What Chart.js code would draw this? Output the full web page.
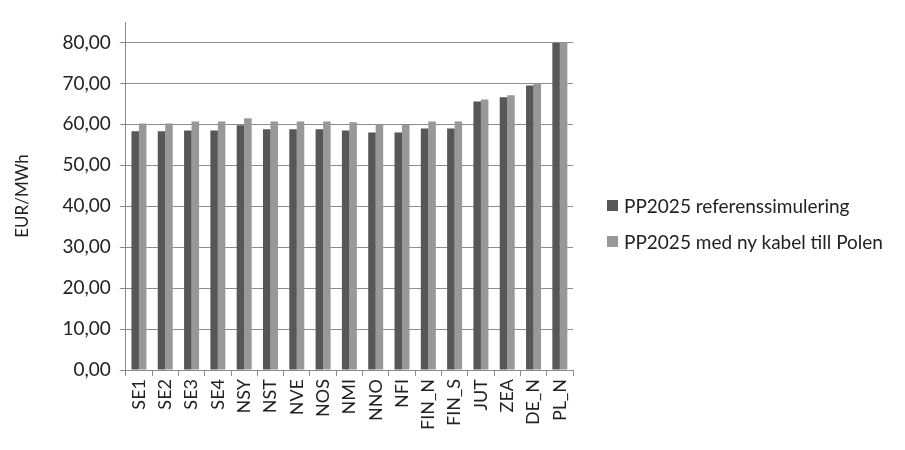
<!DOCTYPE html>
<html>
<head>
<meta charset="utf-8">
<script src="https://cdn.jsdelivr.net/npm/chart.js@4"></script>
<style>
  html, body { margin: 0; padding: 0; background: #fff; }
  #wrap { position: relative; width: 905px; height: 450px; }
  #legend { position: absolute; left: 607px; top: 192px; font-family: Lato, sans-serif; font-size: 19px; color: #222; }
  .legend-item { display: flex; align-items: center; height: 26px; margin-bottom: 10px; }
  .legend-box { width: 11px; height: 11px; margin-right: 6px; }
</style>
</head>
<body>
<div id="wrap">
  <canvas id="chart" width="905" height="450"></canvas>
  <div id="legend"></div>
</div>
<script>
// ============ DATA ============

const categories = ['SE1', 'SE2', 'SE3', 'SE4', 'NSY', 'NST', 'NVE', 'NOS', 'NMI', 'NNO', 'NFI', 'FIN_N', 'FIN_S', 'JUT', 'ZEA', 'DE_N', 'PL_N'];
const referens = [58.3, 58.3, 58.5, 58.5, 59.8, 58.8, 58.8, 58.8, 58.5, 58.0, 58.0, 59.0, 59.0, 65.6, 66.6, 69.5, 79.9];
const nyKabel = [60.2, 60.2, 60.7, 60.7, 61.5, 60.7, 60.7, 60.7, 60.5, 59.9, 59.9, 60.7, 60.7, 66.1, 67.1, 70.0, 80.0];
const yTicks = [0, 10, 20, 30, 40, 50, 60, 70, 80];

const seriesNames = ['PP2025 referenssimulering', 'PP2025 med ny kabel till Polen'];
const seriesColors = ['#575757', '#989898'];

// ============ CHART ============

const font = 'Lato';
const gridColor = '#8c8c8c';

function formatValue(v) {
  return v.toFixed(2).replace('.', ',');
}

const chart = new Chart(document.getElementById('chart'), {
  type: 'bar',
  data: {
    labels: categories,
    datasets: [{
      label: seriesNames[0],
      data: referens,
      backgroundColor: seriesColors[0],
      categoryPercentage: 0.57,
      barPercentage: 1
    }, {
      label: seriesNames[1],
      data: nyKabel,
      backgroundColor: seriesColors[1],
      categoryPercentage: 0.57,
      barPercentage: 1
    }]
  },
  options: {
    responsive: false,
    animation: false,
    layout: { padding: { top: 22, left: 8, right: 332, bottom: 17 } },
    plugins: {
      legend: { display: false },
      tooltip: { enabled: false }
    },
    scales: {
      x: {
        grid: {
          offset: true,
          drawOnChartArea: false,
          drawTicks: true,
          tickLength: 6,
          color: gridColor
        },
        border: { color: gridColor },
        ticks: {
          minRotation: 90,
          maxRotation: 90,
          autoSkip: false,
          color: '#222',
          font: { family: font, size: 18 }
        }
      },
      y: {
        min: 0,
        max: 85,
        afterBuildTicks: axis => {
          axis.ticks = yTicks.map(v => ({ value: v }));
        },
        grid: {
          color: gridColor,
          tickLength: 6
        },
        border: { color: gridColor },
        ticks: {
          padding: 9,
          color: '#222',
          font: { family: font, size: 19 },
          callback: v => formatValue(v)
        },
        title: {
          display: true,
          text: 'EUR/MWh',
          color: '#222',
          font: { family: font, size: 17 },
          padding: { top: 4, bottom: 21 }
        }
      }
    }
  }
});

// ============ LEGEND ============

document.getElementById('legend').innerHTML = chart.data.datasets.map(ds => `
  <div class="legend-item">
    <span class="legend-box" style="background:${ds.backgroundColor}"></span>
    <span>${ds.label}</span>
  </div>
`).join('');
</script>
</body>
</html>
